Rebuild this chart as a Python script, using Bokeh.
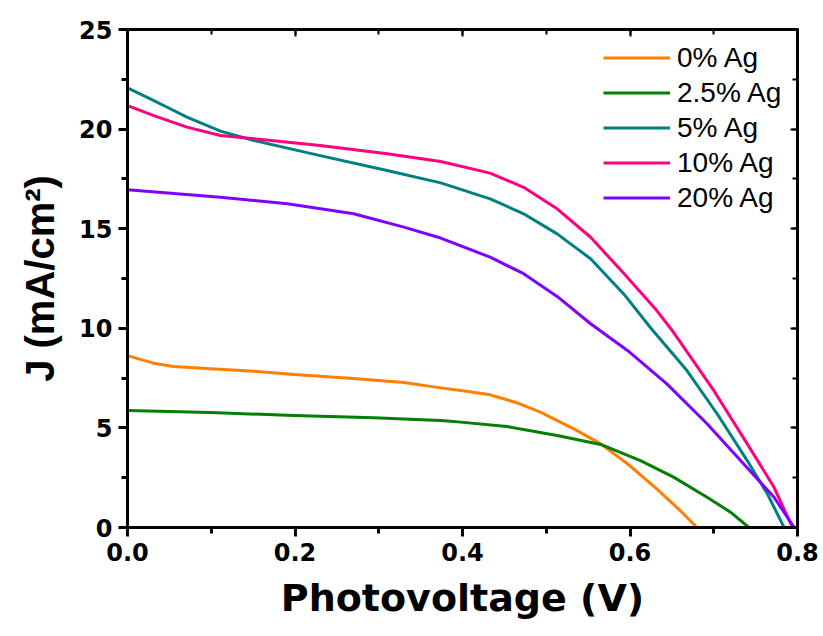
from bokeh.plotting import figure
from bokeh.models import Range1d, LinearAxis, BasicTicker, SingleIntervalTicker, PrintfTickFormatter, Legend, LegendItem
from bokeh.embed import file_html
from bokeh.resources import INLINE

# Data
V_0 = [0, 0.031, 0.055, 0.099, 0.151, 0.199, 0.270, 0.330, 0.374, 0.398, 0.433, 0.463, 0.493, 0.533, 0.565, 0.597, 0.632, 0.660, 0.680]
J_0 = [8.63, 8.25, 8.08, 7.97, 7.85, 7.68, 7.48, 7.28, 7.01, 6.88, 6.66, 6.29, 5.79, 4.95, 4.20, 3.20, 1.94, 0.85, 0.0]

V_25 = [0, 0.099, 0.199, 0.294, 0.374, 0.398, 0.453, 0.513, 0.565, 0.6125, 0.652, 0.692, 0.720, 0.742]
J_25 = [5.87, 5.77, 5.62, 5.51, 5.37, 5.29, 5.07, 4.62, 4.17, 3.36, 2.53, 1.52, 0.77, 0.0]

V_5 = [0, 0.0315, 0.051, 0.071, 0.111, 0.151, 0.230, 0.310, 0.374, 0.433, 0.473, 0.513, 0.553, 0.593, 0.625, 0.668, 0.704, 0.740, 0.764, 0.784]
J_5 = [22.07, 21.43, 21.02, 20.6, 19.9, 19.43, 18.67, 17.92, 17.3, 16.5, 15.75, 14.74, 13.49, 11.7, 10.0, 7.88, 5.71, 3.36, 1.69, 0.0]

V_10 = [0, 0.0315, 0.071, 0.111, 0.151, 0.230, 0.310, 0.374, 0.433, 0.473, 0.513, 0.553, 0.593, 0.632, 0.652, 0.700, 0.740, 0.772, 0.794]
J_10 = [21.18, 20.68, 20.1, 19.68, 19.51, 19.18, 18.76, 18.37, 17.79, 17.08, 16.0, 14.57, 12.74, 10.89, 9.8, 6.88, 4.20, 2.02, 0.0]

V_20 = [0, 0.111, 0.191, 0.270, 0.330, 0.374, 0.433, 0.473, 0.513, 0.553, 0.597, 0.644, 0.692, 0.732, 0.772, 0.796]
J_20 = [16.95, 16.58, 16.25, 15.75, 15.08, 14.53, 13.57, 12.74, 11.6, 10.23, 8.89, 7.21, 5.21, 3.36, 1.52, 0.0]

labels = ["0% Ag", "2.5% Ag", "5% Ag", "10% Ag", "20% Ag"]
colors = ["#FF7F00", "#007F00", "#008080", "#FF0080", "#8000FF"]
series = [(V_0, J_0), (V_25, J_25), (V_5, J_5), (V_10, J_10), (V_20, J_20)]

TICK_FONT = "DejaVu Sans"
LABEL_FONT = "Liberation Sans"

p = figure(width=820, height=630, output_backend="svg", toolbar_location=None,
           x_range=Range1d(0, 0.8), y_range=Range1d(0, 25),
           min_border_left=127, min_border_right=23, min_border_top=29, min_border_bottom=103)
p.outline_line_color = None
p.grid.visible = False

items = []
for (vx, jy), lab, col in zip(series, labels, colors):
    r = p.line(vx, jy, line_color=col, line_width=3, line_join="round")
    items.append(LegendItem(label=lab, renderers=[r]))

xt = BasicTicker(desired_num_ticks=5, num_minor_ticks=2)
yt = BasicTicker(desired_num_ticks=5, num_minor_ticks=2)

for ax, tk in ((p.xaxis[0], xt), (p.yaxis[0], yt)):
    ax.ticker = tk
    ax.axis_line_width = 3
    ax.major_tick_line_width = 3
    ax.minor_tick_line_width = 3
    ax.major_tick_out = 9
    ax.major_tick_in = 1
    ax.minor_tick_out = 6
    ax.minor_tick_in = 1
    ax.major_label_text_font = TICK_FONT
    ax.major_label_text_font_style = "bold"
    ax.major_label_text_font_size = "24px"
    ax.major_label_text_color = "black"
    ax.axis_label_text_font_style = "bold"
    ax.axis_label_text_color = "black"

p.xaxis[0].formatter = PrintfTickFormatter(format="%.1f")
p.xaxis[0].axis_label = "Photovoltage (V)"
p.xaxis[0].axis_label_text_font = TICK_FONT
p.xaxis[0].axis_label_text_font_size = "38px"
p.xaxis[0].major_label_standoff = 6
p.xaxis[0].axis_label_standoff = 12
p.yaxis[0].axis_label = "J (mA/cm²)"
p.yaxis[0].axis_label_text_font = LABEL_FONT
p.yaxis[0].axis_label_text_font_size = "40px"
p.yaxis[0].major_label_standoff = 6
p.yaxis[0].axis_label_standoff = 14

for loc, tk in (("above", SingleIntervalTicker(interval=0.2, num_minor_ticks=2)),
                ("right", SingleIntervalTicker(interval=5, num_minor_ticks=2))):
    ax = LinearAxis(ticker=tk)
    ax.axis_line_width = 3
    ax.major_tick_line_width = 2
    ax.minor_tick_line_width = 2
    ax.major_tick_in = 7
    ax.major_tick_out = 1
    ax.minor_tick_in = 5
    ax.minor_tick_out = 1
    ax.major_label_text_font_size = "2px"
    ax.major_label_text_color = None
    ax.major_label_standoff = 0
    p.add_layout(ax, loc)

legend = Legend(items=items, location=(476, 313))
legend.border_line_color = None
legend.background_fill_alpha = 0
legend.padding = 0
legend.margin = 0
legend.glyph_width = 67
legend.glyph_height = 33
legend.label_height = 33
legend.spacing = 2
legend.label_standoff = 7
legend.label_text_font = LABEL_FONT
legend.label_text_font_size = "28px"
legend.label_text_color = "black"
p.add_layout(legend, "center")

open("out.html", "w").write(file_html(p, INLINE))
